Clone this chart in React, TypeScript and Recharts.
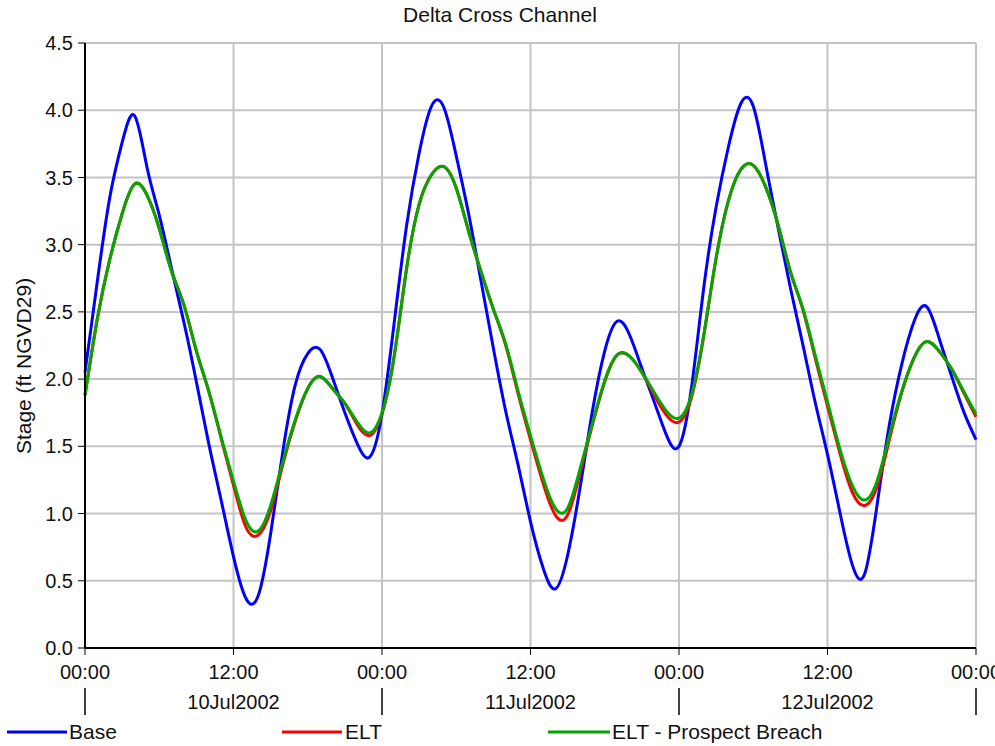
import React from 'react';
import { CartesianGrid, Line, LineChart, XAxis, YAxis } from 'recharts';

// hours since 10Jul2002 00:00
const hours = Array.from({ length: 73 }, (_, i) => i);

const baseStage = [
  2.05, 2.73, 3.35, 3.76, 3.96, 3.58, 3.22, 2.82, 2.42, 1.98, 1.52, 1.1, 0.68, 0.37, 0.39, 0.85, 1.47, 1.96, 2.19,
  2.22, 2.01, 1.75, 1.52, 1.42,
  1.74, 2.43, 3.15, 3.68, 4.03, 4.02, 3.66, 3.23, 2.73, 2.23, 1.76, 1.36, 0.94, 0.6, 0.44, 0.69, 1.19, 1.76, 2.21,
  2.43, 2.33, 2.08, 1.83, 1.58,
  1.5, 1.93, 2.68, 3.28, 3.73, 4.05, 4.03, 3.6, 3.13, 2.68, 2.26, 1.83, 1.44, 1.01, 0.62, 0.55, 1.06, 1.66, 2.11,
  2.43, 2.54, 2.31, 2.03, 1.76, 1.55,
];

const eltStage = [
  1.88, 2.45, 2.89, 3.23, 3.45, 3.37, 3.12, 2.8, 2.55, 2.21, 1.91, 1.56, 1.21, 0.9, 0.84, 1.02, 1.37, 1.69, 1.93,
  2.02, 1.93, 1.82, 1.66, 1.58,
  1.74, 2.18, 2.83, 3.3, 3.52, 3.58, 3.42, 3.1, 2.8, 2.52, 2.25, 1.89, 1.55, 1.23, 0.99, 0.99, 1.3, 1.66, 1.98,
  2.18, 2.17, 2.05, 1.88, 1.73,
  1.68, 1.86, 2.32, 2.9, 3.33, 3.56, 3.59, 3.43, 3.15, 2.8, 2.52, 2.16, 1.8, 1.45, 1.16, 1.06, 1.2, 1.55, 1.9,
  2.16, 2.28, 2.21, 2.08, 1.9, 1.72,
];

const breachStage = [
  1.88, 2.45, 2.89, 3.23, 3.45, 3.37, 3.12, 2.8, 2.55, 2.21, 1.91, 1.57, 1.24, 0.95, 0.87, 1.06, 1.39, 1.7, 1.93,
  2.02, 1.93, 1.82, 1.68, 1.6,
  1.75, 2.18, 2.83, 3.3, 3.52, 3.58, 3.42, 3.1, 2.8, 2.52, 2.26, 1.91, 1.58, 1.27, 1.04, 1.04, 1.33, 1.67, 1.99,
  2.18, 2.17, 2.05, 1.9, 1.76,
  1.71, 1.88, 2.33, 2.9, 3.33, 3.56, 3.59, 3.43, 3.15, 2.8, 2.53, 2.18, 1.83, 1.48, 1.21, 1.1, 1.24, 1.58, 1.91,
  2.16, 2.28, 2.21, 2.08, 1.91, 1.74,
];

const hourTicks = [0, 12, 24, 36, 48, 60, 72];
const stageTicks = [0, 0.5, 1, 1.5, 2, 2.5, 3, 3.5, 4, 4.5];
const dayLabels = ['10Jul2002', '11Jul2002', '12Jul2002'];

const seriesNames = ['Base', 'ELT', 'ELT - Prospect Breach'];
const seriesColors = ['#0000ff', '#ff0000', '#00a800'];

const data = hours.map((h, i) => ({
  h,
  base: baseStage[i],
  elt: eltStage[i],
  breach: breachStage[i],
}));

const FONT = '"Liberation Sans", Arial, sans-serif';

const DayTick = (props: any) => {
  const { x, y, payload } = props;
  const v = payload.value;
  if (v % 24 === 0) {
    return <line x1={x} x2={x} y1={y + 2} y2={y + 29} stroke='#000' strokeWidth={1.5} />;
  }
  return (
    <text x={x} y={y + 23} textAnchor='middle' fontSize={20} fill='#111' fontFamily={FONT}>
      {dayLabels[Math.floor(v / 24)]}
    </text>
  );
};

const legendPos = [
  { x1: 7, x2: 67, tx: 69 },
  { x1: 282, x2: 342, tx: 345 },
  { x1: 548, x2: 610, tx: 612 },
];

const App = () => {
  return (
    <div style={{ position: 'absolute', left: 0, top: 0, width: 995, height: 746, fontFamily: FONT }}>
      <LineChart
        width={995}
        height={746}
        data={data}
        margin={{ top: 43, right: 19, left: 25, bottom: 0 }}
      >
        <CartesianGrid stroke='#c4c4c4' strokeWidth={2} />
        <XAxis
          dataKey='h'
          type='number'
          domain={[0, 72]}
          ticks={hourTicks}
          interval={0}
          height={38}
          tickSize={7}
          tickMargin={10}
          tickFormatter={(v) => (v % 24 === 0 ? '00:00' : '12:00')}
          tick={{ fontSize: 20, fill: '#111', fontFamily: FONT }}
          axisLine={{ stroke: '#000', strokeWidth: 2 }}
          tickLine={{ stroke: '#000' }}
        />
        <XAxis
          xAxisId='day'
          dataKey='h'
          type='number'
          domain={[0, 72]}
          ticks={hourTicks}
          interval={0}
          height={60}
          tickSize={0}
          tickMargin={0}
          axisLine={false}
          tickLine={false}
          tick={<DayTick />}
        />
        <XAxis
          xAxisId='top'
          orientation='top'
          dataKey='h'
          type='number'
          domain={[0, 72]}
          height={0}
          tick={false}
          tickLine={false}
          axisLine={{ stroke: '#000', strokeWidth: 2 }}
        />
        <YAxis
          domain={[0, 4.5]}
          ticks={stageTicks}
          interval={0}
          width={60}
          tickSize={7}
          tickMargin={5}
          tickFormatter={(v) => v.toFixed(1)}
          tick={{ fontSize: 20, fill: '#111', fontFamily: FONT }}
          axisLine={{ stroke: '#000', strokeWidth: 2 }}
          tickLine={{ stroke: '#000' }}
        />
        <YAxis
          yAxisId='right'
          orientation='right'
          domain={[0, 4.5]}
          width={0}
          tick={false}
          tickLine={false}
          axisLine={{ stroke: '#000', strokeWidth: 2 }}
        />
        <Line
          type='natural'
          dataKey='base'
          stroke={seriesColors[0]}
          strokeWidth={3}
          dot={false}
          isAnimationActive={false}
        />
        <Line
          type='natural'
          dataKey='elt'
          stroke={seriesColors[1]}
          strokeWidth={3}
          dot={false}
          isAnimationActive={false}
        />
        <Line
          type='natural'
          dataKey='breach'
          stroke={seriesColors[2]}
          strokeWidth={3}
          dot={false}
          isAnimationActive={false}
        />
      </LineChart>
      <svg
        width={995}
        height={746}
        style={{ position: 'absolute', left: 0, top: 0, pointerEvents: 'none' }}
      >
        <text x={500} y={22} textAnchor='middle' fontSize={21} fill='#111' fontFamily={FONT}>
          Delta Cross Channel
        </text>
        <text
          x={0}
          y={0}
          transform='translate(31 366) rotate(-90)'
          textAnchor='middle'
          fontSize={21}
          fill='#111'
          fontFamily={FONT}
        >
          Stage (ft NGVD29)
        </text>
        {seriesNames.map((name, i) => (
          <g key={name}>
            <line
              x1={legendPos[i].x1}
              x2={legendPos[i].x2}
              y1={732}
              y2={732}
              stroke={seriesColors[i]}
              strokeWidth={3}
            />
            <text x={legendPos[i].tx} y={739} fontSize={21} fill='#111' fontFamily={FONT}>
              {name}
            </text>
          </g>
        ))}
      </svg>
    </div>
  );
};

export default App;
